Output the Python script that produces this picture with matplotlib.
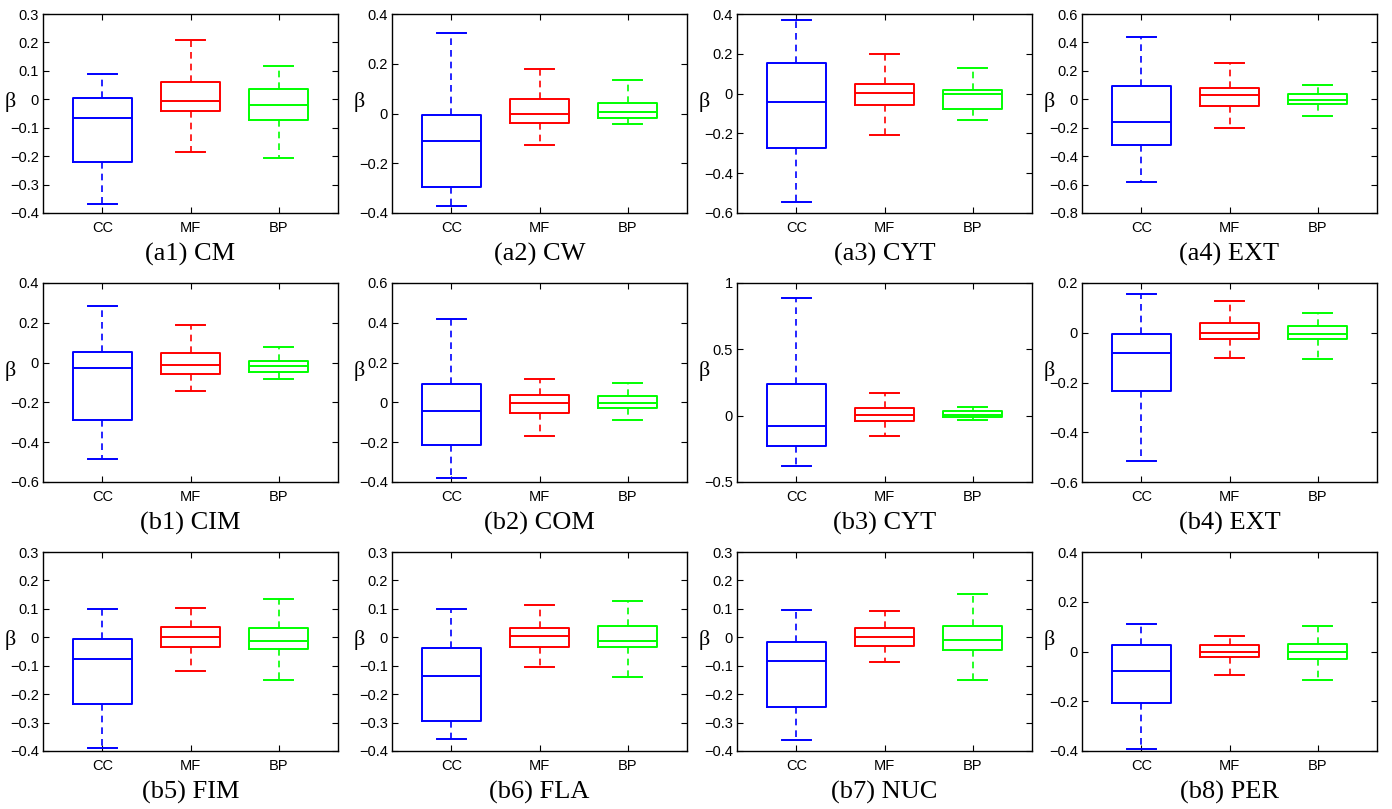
import numpy as np
import matplotlib
matplotlib.use("Agg")
import matplotlib.pyplot as plt
from matplotlib.ticker import FuncFormatter

# ========== data ==========
titles = ["(a1) CM", "(a2) CW", "(a3) CYT", "(a4) EXT",
          "(b1) CIM", "(b2) COM", "(b3) CYT", "(b4) EXT",
          "(b5) FIM", "(b6) FLA", "(b7) NUC", "(b8) PER"]
methods = ["CC", "MF", "BP"]
colors = ["#0000ff", "#ff0000", "#00ff00"]

y_lo = [-0.4, -0.4, -0.6, -0.8, -0.6, -0.4, -0.5, -0.6, -0.4, -0.4, -0.4, -0.4]
y_hi = [0.3, 0.4, 0.4, 0.6, 0.4, 0.6, 1.0, 0.2, 0.3, 0.3, 0.3, 0.4]
y_step = [0.1, 0.2, 0.2, 0.2, 0.2, 0.2, 0.5, 0.2, 0.1, 0.1, 0.1, 0.2]

# CC
cc_whishi = [0.09, 0.325, 0.37, 0.44, 0.285, 0.418, 0.885, 0.157, 0.10, 0.10, 0.095, 0.11]
cc_q3 = [0.005, -0.005, 0.155, 0.095, 0.052, 0.09, 0.24, -0.007, -0.007, -0.037, -0.018, 0.028]
cc_med = [-0.065, -0.11, -0.04, -0.16, -0.025, -0.045, -0.075, -0.08, -0.075, -0.137, -0.085, -0.08]
cc_q1 = [-0.22, -0.295, -0.275, -0.32, -0.29, -0.215, -0.225, -0.233, -0.233, -0.295, -0.245, -0.207]
cc_whislo = [-0.37, -0.37, -0.545, -0.585, -0.485, -0.382, -0.38, -0.515, -0.39, -0.358, -0.363, -0.39]

# MF
mf_whishi = [0.21, 0.178, 0.20, 0.255, 0.187, 0.12, 0.17, 0.127, 0.104, 0.112, 0.092, 0.063]
mf_q3 = [0.062, 0.057, 0.047, 0.08, 0.05, 0.035, 0.055, 0.04, 0.035, 0.032, 0.031, 0.025]
mf_med = [-0.005, 0.0, 0.003, 0.03, -0.013, -0.002, 0.008, -0.003, 0.0, 0.003, 0.0, -0.003]
mf_q1 = [-0.04, -0.04, -0.055, -0.045, -0.057, -0.052, -0.04, -0.027, -0.035, -0.033, -0.029, -0.022]
mf_whislo = [-0.185, -0.125, -0.21, -0.205, -0.145, -0.167, -0.15, -0.10, -0.12, -0.106, -0.088, -0.093]

# BP
bp_whishi = [0.118, 0.135, 0.127, 0.10, 0.078, 0.097, 0.065, 0.08, 0.135, 0.128, 0.153, 0.103]
bp_q3 = [0.035, 0.042, 0.018, 0.035, 0.008, 0.03, 0.035, 0.027, 0.032, 0.04, 0.04, 0.03]
bp_med = [-0.02, 0.008, 0.0, -0.005, -0.018, -0.002, 0.008, -0.007, -0.014, -0.012, -0.01, 0.0]
bp_q1 = [-0.072, -0.02, -0.078, -0.03, -0.045, -0.03, -0.012, -0.027, -0.042, -0.033, -0.043, -0.032]
bp_whislo = [-0.205, -0.042, -0.133, -0.12, -0.08, -0.09, -0.035, -0.105, -0.152, -0.138, -0.15, -0.113]

series = [
    (cc_whishi, cc_q3, cc_med, cc_q1, cc_whislo),
    (mf_whishi, mf_q3, mf_med, mf_q1, mf_whislo),
    (bp_whishi, bp_q3, bp_med, bp_q1, bp_whislo),
]

# ========== layout (pixels of a 1392x809 canvas) ==========
W, H = 1392, 809
col_left = [43, 392, 737, 1082]
ax_w = 295
row_top = [14, 283, 552]
ax_h = 199

plt.rcParams['font.family'] = ['Liberation Sans', 'DejaVu Sans']
serif = ['Liberation Serif', 'DejaVu Serif']


def fmt(v, pos):
    s = f"{round(v, 3):g}"
    if s == "-0":
        s = "0"
    return s.replace("-", "\u2212")


fig = plt.figure(figsize=(W / 100, H / 100), dpi=100)

for i in range(12):
    r, c = divmod(i, 4)
    ax = fig.add_axes([col_left[c] / W, 1 - (row_top[r] + ax_h) / H, ax_w / W, ax_h / H])

    stats = []
    for s in series:
        hi, q3, med, q1, lo = s
        stats.append(dict(whishi=hi[i], q3=q3[i], med=med[i], q1=q1[i], whislo=lo[i], fliers=[]))

    bp = ax.bxp(stats, positions=[1, 2, 3], widths=0.67, showfliers=False, capwidths=0.33,
                boxprops=dict(linewidth=1.4), medianprops=dict(linewidth=1.4),
                whiskerprops=dict(linewidth=1.2, linestyle=(0, (4, 3))),
                capprops=dict(linewidth=1.4))
    for j, col in enumerate(colors):
        bp['boxes'][j].set_color(col)
        bp['medians'][j].set_color(col)
        bp['whiskers'][2 * j].set_color(col)
        bp['whiskers'][2 * j + 1].set_color(col)
        bp['caps'][2 * j].set_color(col)
        bp['caps'][2 * j + 1].set_color(col)

    ax.set_xlim(0.324, 3.676)
    ax.set_ylim(y_lo[i], y_hi[i])
    ticks = np.arange(y_lo[i], y_hi[i] + y_step[i] / 2, y_step[i])
    ax.set_yticks(ticks)
    ax.yaxis.set_major_formatter(FuncFormatter(fmt))
    ax.set_xticks([1, 2, 3])
    ax.set_xticklabels(methods)
    ax.tick_params(direction='in', length=4, width=0.8, top=True, right=True,
                   labelsize=10.5, pad=3)
    ax.tick_params(axis='x', pad=6)
    for sp in ax.spines.values():
        sp.set_linewidth(1.0)
    ax.set_ylabel("\u03b2", fontsize=16, rotation=0, va='center', ha='center', family=serif)
    ax.yaxis.set_label_coords(-0.11, 0.56)
    ax.text(0.5, -0.21, titles[i], transform=ax.transAxes, fontsize=19, family=serif,
            ha='center', va='center')

plt.savefig("out.png", dpi=100)
plt.close()
